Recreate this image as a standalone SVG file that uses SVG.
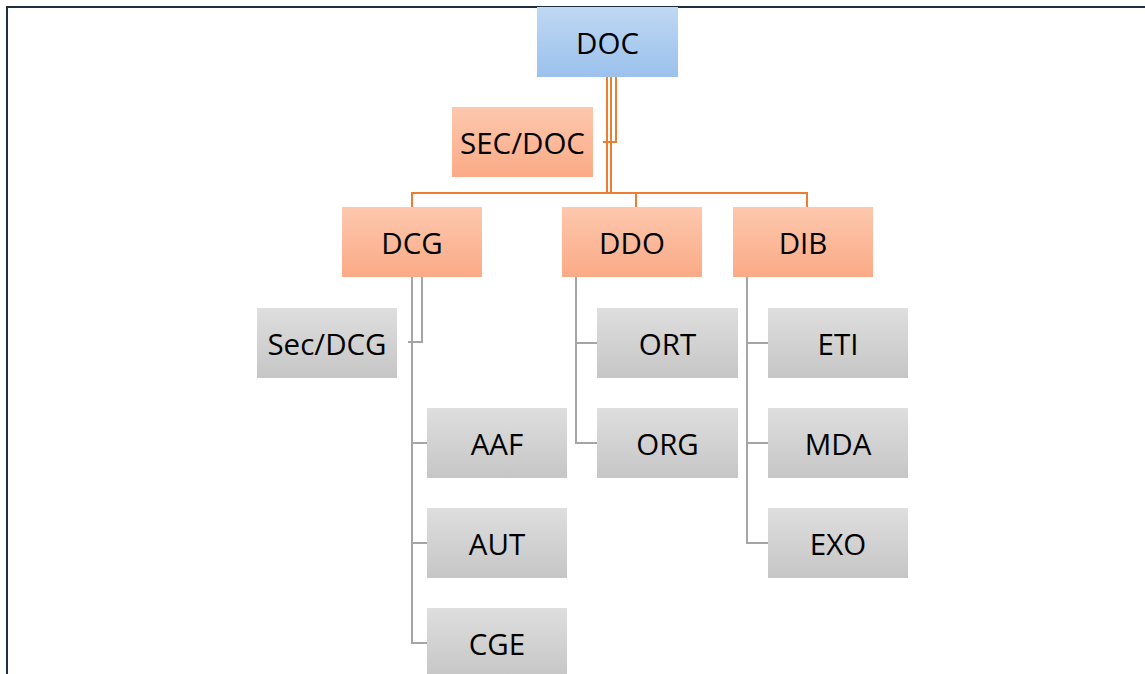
<svg xmlns="http://www.w3.org/2000/svg" width="1145" height="674" viewBox="0 0 1145 674">
<defs>
<linearGradient id="gBlue" x1="0" y1="0" x2="0" y2="1"><stop offset="0" stop-color="#bfd8f3"/><stop offset="1" stop-color="#9bc1ec"/></linearGradient>
<linearGradient id="gOrange" x1="0" y1="0" x2="0" y2="1"><stop offset="0" stop-color="#fdc8ae"/><stop offset="1" stop-color="#fbaa86"/></linearGradient>
<linearGradient id="gGray" x1="0" y1="0" x2="0" y2="1"><stop offset="0" stop-color="#dedede"/><stop offset="1" stop-color="#c6c6c6"/></linearGradient>
</defs>
<style>
.blue{fill:url(#gBlue);}
.orange{fill:url(#gOrange);}
.gray{fill:url(#gGray);}
.lbl{font-family:"Open Sans","Noto Sans","Liberation Sans",sans-serif;font-size:29.5px;fill:#000;text-anchor:middle;}
.oc{fill:none;stroke:#ed7d31;stroke-width:2;}
.gc{fill:none;stroke:#a5a5a5;stroke-width:2;}
.frame{fill:none;stroke:#1f2f42;stroke-width:2;}
</style>
<rect width="1145" height="674" fill="#ffffff"/>
<path class="frame" d="M7,674 V7 H1145"/>
<g id="connectors">
<path class="oc" d="M607,77 V193"/>
<path class="oc" d="M611,77 V193"/>
<path class="oc" d="M616,77 V142 H603"/>
<path class="oc" d="M412,207 V193 H807 V207"/>
<path class="oc" d="M636,193 V207"/>
<path class="gc" d="M412,277 V643 H427"/>
<path class="gc" d="M412,443 H427"/>
<path class="gc" d="M412,543 H427"/>
<path class="gc" d="M422,277 V342 H408"/>
<path class="gc" d="M576,277 V443 H597"/>
<path class="gc" d="M576,343 H597"/>
<path class="gc" d="M747,277 V543 H768"/>
<path class="gc" d="M747,343 H768"/>
<path class="gc" d="M747,443 H768"/>
</g>
<g id="doc"><rect class="blue" x="537" y="7" width="141" height="70"/><text class="lbl" x="607.5" y="54">DOC</text></g>
<g id="secdoc"><rect class="orange" x="452" y="107" width="141" height="70"/><text class="lbl" x="522.5" y="154">SEC/DOC</text></g>
<g id="dcg"><rect class="orange" x="342" y="207" width="140" height="70"/><text class="lbl" x="412" y="254">DCG</text></g>
<g id="ddo"><rect class="orange" x="562" y="207" width="140" height="70"/><text class="lbl" x="632" y="254">DDO</text></g>
<g id="dib"><rect class="orange" x="733" y="207" width="140" height="70"/><text class="lbl" x="803" y="254">DIB</text></g>
<g id="secdcg"><rect class="gray" x="257" y="308" width="140" height="70"/><text class="lbl" x="327" y="355">Sec/DCG</text></g>
<g id="aaf"><rect class="gray" x="427" y="408" width="140" height="70"/><text class="lbl" x="497" y="455">AAF</text></g>
<g id="aut"><rect class="gray" x="427" y="508" width="140" height="70"/><text class="lbl" x="497" y="555">AUT</text></g>
<g id="cge"><rect class="gray" x="427" y="608" width="140" height="70"/><text class="lbl" x="497" y="655">CGE</text></g>
<g id="ort"><rect class="gray" x="597" y="308" width="141" height="70"/><text class="lbl" x="667.5" y="355">ORT</text></g>
<g id="org"><rect class="gray" x="597" y="408" width="141" height="70"/><text class="lbl" x="667.5" y="455">ORG</text></g>
<g id="eti"><rect class="gray" x="768" y="308" width="140" height="70"/><text class="lbl" x="838" y="355">ETI</text></g>
<g id="mda"><rect class="gray" x="768" y="408" width="140" height="70"/><text class="lbl" x="838" y="455">MDA</text></g>
<g id="exo"><rect class="gray" x="768" y="508" width="140" height="70"/><text class="lbl" x="838" y="555">EXO</text></g>
</svg>
